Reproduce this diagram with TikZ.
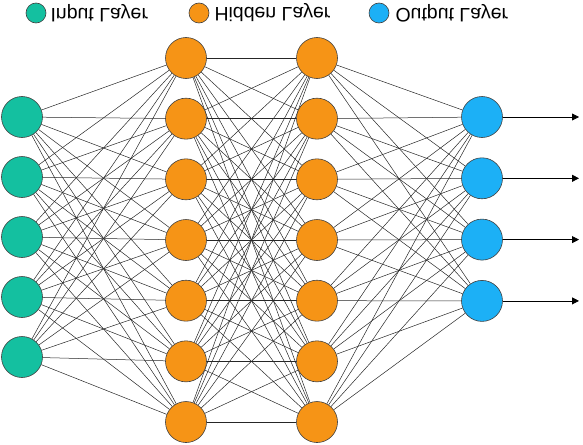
\documentclass[tikz,border=0pt]{standalone}
\usepackage{fontspec}
\setmainfont{Liberation Sans}
\usetikzlibrary{arrows.meta,positioning,backgrounds}
\definecolor{inteal}{RGB}{20,192,160}
\definecolor{hidorange}{RGB}{246,148,22}
\definecolor{outblue}{RGB}{28,176,246}

\begin{document}
\begin{tikzpicture}[
    x=1pt, y=-1pt,
    neuron/.style={circle, draw=black!75, line width=0.6pt, minimum size=41pt, inner sep=0pt, fill=#1},
    keydot/.style={circle, draw=black!75, line width=0.6pt, minimum size=20pt, inner sep=0pt, fill=#1},
    keytext/.style={anchor=west, inner sep=0pt, font=\fontsize{19.5}{20}\selectfont, yscale=-1, transform shape},
    link/.style={draw=black!85, line width=0.5pt},
    outarrow/.style={-{Triangle[length=7pt,width=7pt]}, draw=black, line width=0.8pt},
]
    \useasboundingbox (0,0) rectangle (583,444);

    % Legend
    \node[keydot=inteal] (keyin) at (36,13) {};
    \node[keytext, right=4pt of keyin] (keyintext) {Input Layer};
    \node[keydot=hidorange] (keyhid) at (199,13) {};
    \node[keytext, right=5pt of keyhid] (keyhidtext) {Hidden Layer};
    \node[keydot=outblue] (keyout) at (379,13) {};
    \node[keytext, right=6pt of keyout] (keyouttext) {Output Layer};

    % Layers
    \foreach \i in {1,...,5}
        \node[neuron=inteal] (in\i) at (22,{117+60*(\i-1)}) {};
    \foreach \i in {1,...,7} {
        \node[neuron=hidorange] (ha\i) at (186,{58+60.67*(\i-1)}) {};
        \node[neuron=hidorange] (hb\i) at (317,{58+60.67*(\i-1)}) {};
    }
    \foreach \i in {1,...,4}
        \node[neuron=outblue] (out\i) at (482,{117+61.3*(\i-1)}) {};

    % Connections
    \begin{scope}[on background layer]
        \foreach \i in {1,...,5}
            \foreach \j in {1,...,7}
                \draw[link] (in\i) -- (ha\j);
        \foreach \i in {1,...,7}
            \foreach \j in {1,...,7}
                \draw[link] (ha\i) -- (hb\j);
        \foreach \i in {1,...,7}
            \foreach \j in {1,...,4}
                \draw[link] (hb\i) -- (out\j);
    \end{scope}

    % Outputs
    \coordinate (arrowend) at (579,0);
    \foreach \i in {1,...,4}
        \draw[outarrow] (out\i) -- (out\i -| arrowend);
\end{tikzpicture}
\end{document}
